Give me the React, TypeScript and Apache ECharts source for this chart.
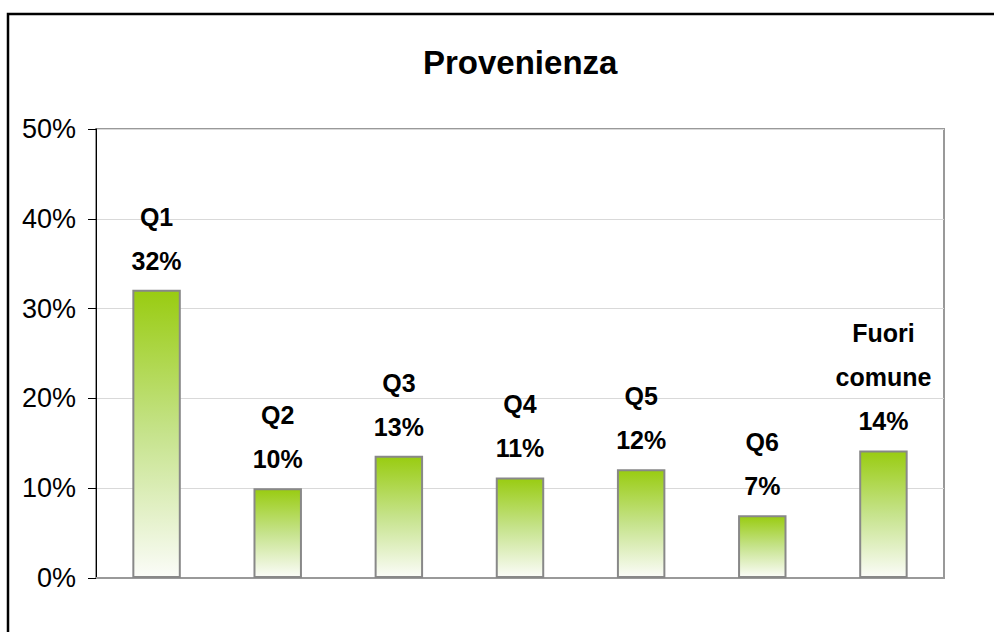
import React, { useEffect, useRef } from "react";
import * as echarts from "echarts";

const categories = ["Q1", "Q2", "Q3", "Q4", "Q5", "Q6", "Fuori\ncomune"];
const values = [32.1, 10.0, 13.6, 11.2, 12.1, 7.0, 14.2];
const valueLabels = ["32%", "10%", "13%", "11%", "12%", "7%", "14%"];
const yTicks = [0, 10, 20, 30, 40, 50];

const FONT = "'Liberation Sans', Arial, sans-serif";

export default function App() {
  const ref = useRef<HTMLDivElement>(null);
  useEffect(() => {
    if (!ref.current) return;
    const chart = echarts.init(ref.current, undefined, { renderer: "svg" });
    chart.setOption({
      animation: false,
      backgroundColor: "#ffffff",
      title: {
        text: "Provenienza",
        left: 418,
        top: 41,
        textStyle: { fontFamily: FONT, fontSize: 33, fontWeight: "bold", color: "#000" },
      },
      graphic: [
        {
          type: "rect",
          shape: { x: 8, y: 14, width: 1000, height: 700 },
          style: { fill: "none", stroke: "#000", lineWidth: 2.5 },
          silent: true,
        },
      ],
      grid: {
        left: 96,
        top: 129,
        right: 50,
        bottom: 54,
        show: true,
        borderColor: "#999999",
        borderWidth: 2,
        backgroundColor: "transparent",
      },
      xAxis: {
        type: "category",
        data: categories,
        axisLabel: { show: false },
        axisTick: { show: false },
        axisLine: { show: true, lineStyle: { color: "#999999", width: 2 } },
      },
      yAxis: {
        type: "value",
        min: yTicks[0],
        max: yTicks[yTicks.length - 1],
        interval: 10,
        axisLine: { show: true, lineStyle: { color: "#000", width: 1 } },
        axisTick: { show: true, length: 8, lineStyle: { color: "#000" } },
        axisLabel: {
          formatter: "{value}%",
          fontFamily: FONT,
          fontSize: 27,
          color: "#000",
          margin: 20,
        },
        splitLine: { show: true, lineStyle: { color: "#d9d9d9", width: 1 } },
      },
      series: [
        {
          type: "bar",
          data: values,
          barWidth: "40%",
          itemStyle: {
            borderColor: "#888888",
            borderWidth: 2,
            color: new echarts.graphic.LinearGradient(0, 0, 0, 1, [
              { offset: 0, color: "#99cc11" },
              { offset: 0.5, color: "#c6e38c" },
              { offset: 1, color: "#fbfcf8" },
            ]),
          },
          label: {
            show: true,
            position: "top",
            distance: 7,
            fontFamily: FONT,
            fontSize: 25,
            fontWeight: "bold",
            color: "#000",
            lineHeight: 44,
            align: "center",
            formatter: (p: any) => `${categories[p.dataIndex]}\n${valueLabels[p.dataIndex]}`,
          },
        },
      ],
    });
    return () => chart.dispose();
  }, []);
  return (
    <div
      ref={ref}
      style={{ position: "fixed", left: 0, top: 0, width: 994, height: 632 }}
    />
  );
}
